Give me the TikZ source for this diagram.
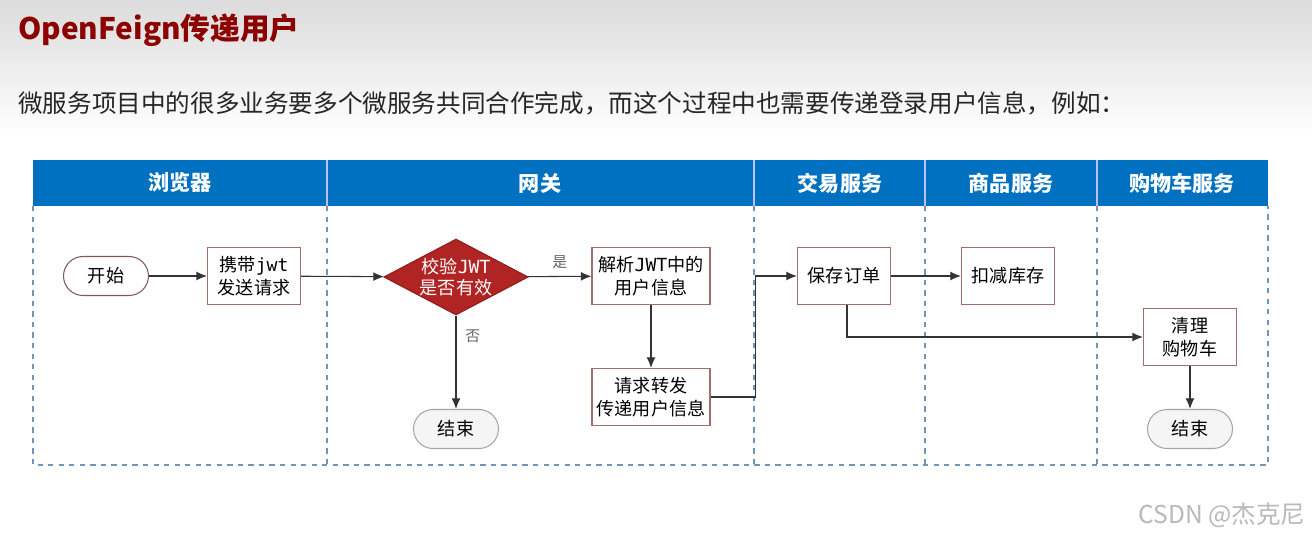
\documentclass[tikz,border=0pt]{standalone}
\usepackage{fontspec}
\setmainfont{Noto Sans CJK SC}
\newfontfamily\jwtfont{DejaVu Sans Mono}
\usetikzlibrary{positioning,arrows.meta,shapes.geometric,calc}
\definecolor{lanebl}{RGB}{0,112,192}
\definecolor{lanedash}{RGB}{110,150,185}
\definecolor{boxbr}{RGB}{160,110,110}
\definecolor{checkred}{RGB}{176,36,36}
\definecolor{titlered}{RGB}{140,0,0}

\begin{document}
\begin{tikzpicture}[x=0.02cm, y=-0.02cm,
  hdr/.style={font=\fontsize{12}{14}\selectfont\bfseries, text=white, inner sep=0pt},
  stepbox/.style={draw=boxbr, line width=0.6pt, fill=white, minimum width=1.86cm, minimum height=1.14cm, align=center, inner sep=2pt, font=\fontsize{10.3}{13}\selectfont},
  widebox/.style={stepbox, minimum width=2.36cm},
  termbox/.style={rectangle, rounded corners=0.39cm, draw=boxbr!80!black, line width=0.6pt, fill=white, minimum width=1.7cm, minimum height=0.78cm, font=\fontsize{10.3}{13}\selectfont},
  endbox/.style={termbox, draw=gray!70, fill=gray!8},
  checkv/.style={diamond, draw=checkred!80!black, line width=0.6pt, fill=checkred, text=white, aspect=1.9, inner sep=0pt, minimum width=2.8cm, minimum height=1.48cm, align=center, font=\fontsize{10.3}{12}\selectfont},
  arr/.style={draw=black!80, line width=0.6pt, -{Latex[length=6pt,width=5pt]}},
  lbl/.style={font=\fontsize{8.5}{10}\selectfont, text=black!60, inner sep=1pt}
]
\useasboundingbox (0,0) rectangle (1312,536);
\fill[white] (0,0) rectangle (1312,536);
\shade[top color=gray!28, bottom color=white] (0,0) rectangle (1312,135);

% title and intro
\node[anchor=west, inner sep=0pt, text=titlered, font=\fontsize{16.9}{19}\selectfont\bfseries] (ttl) at (18,30) {OpenFeign传递用户};
\node[anchor=west, inner sep=0pt, text=black!85, font=\fontsize{14}{16}\selectfont] (intro) at (18,103) {微服务项目中的很多业务要多个微服务共同合作完成，而这个过程中也需要传递登录用户信息，例如：};

% lanes
\fill[lanebl] (33,160) rectangle (1268,206);
\draw[lanedash, dashed, line width=0.6pt] (33,206) -- (33,465) -- (1268,465) -- (1268,206);
\foreach \lx in {327,754,925,1097} {
  \draw[blue!25!white, line width=0.6pt] (\lx,160) -- (\lx,206);
  \draw[lanedash, dashed, line width=0.6pt] (\lx,206) -- (\lx,465);
}
\node[hdr] (h1) at (180,183) {浏览器};
\node[hdr] (h2) at (540,183) {网关};
\node[hdr] (h3) at (840,183) {交易服务};
\node[hdr] (h4) at (1011,183) {商品服务};
\node[hdr] (h5) at (1182,183) {购物车服务};

% steps
\node[termbox] (nstart) at (106,276) {开始};
\node[stepbox] (nsend) at (254,276) {携带{\jwtfont jwt}\\发送请求};
\node[checkv] (ncheck) at (456,277) {校验{\jwtfont JWT}\\是否有效};
\node[widebox] (nparse) at (651,276) {解析{\jwtfont JWT}中的\\用户信息};
\node[endbox] (nendl) at (456,429) {结束};
\node[widebox] (nfwd) at (651,397) {请求转发\\传递用户信息};
\node[stepbox] (norder) at (844,276) {保存订单};
\node[stepbox] (nstock) at (1008,276) {扣减库存};
\node[stepbox] (nclean) at (1190,337) {清理\\购物车};
\node[endbox] (nendr) at (1190,429) {结束};

% flow
\draw[arr] (nstart) -- (nsend);
\draw[arr] (nsend) -- (ncheck);
\draw[arr] (ncheck) -- node[lbl, above=3pt] {是} (nparse);
\draw[arr] (ncheck) -- node[lbl, pos=0.22, right=4pt] {否} (nendl);
\draw[arr] (nparse) -- (nfwd);
\draw[arr] (nfwd.east) -- ++(45,0) |- (norder.west);
\draw[arr] (norder) -- (nstock);
\draw[arr] ([xshift=1.7pt]norder.south) |- (nclean.west);
\draw[arr] (nclean) -- (nendr);

\node[text=gray!55, font=\fontsize{14}{16}\selectfont, inner sep=0pt] (wm) at (1222,515) {CSDN @杰克尼};
\end{tikzpicture}
\end{document}
